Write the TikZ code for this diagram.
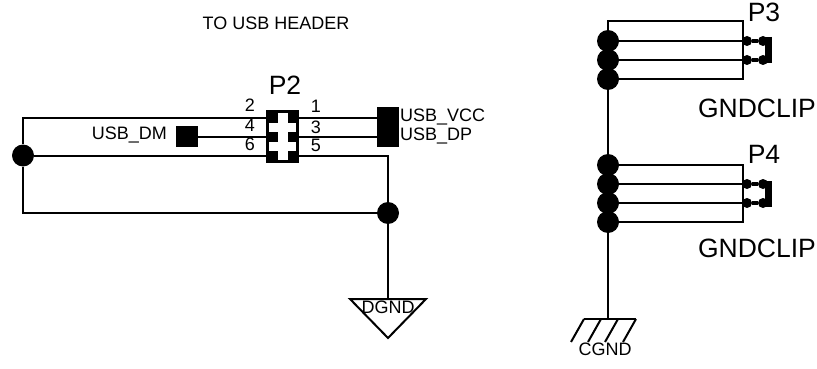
\documentclass[tikz,border=0pt]{standalone}
\usepackage{fontspec}
\setmainfont{Liberation Sans}
\usepackage{xcolor}
\usepackage{tikz}
\tikzset{
	wire/.style={line width=2pt},
	link/.style={line width=4pt},
	bracket/.style={line width=7pt},
	junction/.style={circle, fill=black, inner sep=0pt, minimum size=22pt},
	clipdot/.style={circle, fill=black, inner sep=0pt, minimum size=10pt},
	pad/.style={rectangle, fill=black, inner sep=0pt, minimum width=22pt, minimum height=21pt},
	pin/.style={rectangle, fill=black, inner sep=0pt, minimum width=10pt, minimum height=10pt},
	lbl/.style={inner sep=0pt, font=\fontsize{18}{18}\selectfont},
	big/.style={inner sep=0pt, font=\fontsize{26.5}{27}\selectfont},
}
\begin{document}
\begin{tikzpicture}[x=1pt,y=-1pt]
	\useasboundingbox (0,0) rectangle (817,369);
	\node[lbl] (title) at (276,23) {TO USB HEADER};
	% header P2
	\node[draw, line width=2.6pt, minimum width=30pt, minimum height=50pt, inner sep=0pt] (hdr) at (282.5,136.5) {};
	\node[big] (refa) at (285,85) {P2};
	\node[pin] (p2) at (272.5,117.5) {};
	\node[pin] (p4) at (272.5,136.5) {};
	\node[pin] (p6) at (272.5,155.5) {};
	\node[pin] (p1) at (292.5,117.5) {};
	\node[pin] (p3) at (292.5,136.5) {};
	\node[pin] (p5) at (292.5,155.5) {};
	\node[lbl] (na) at (250,105) {2};
	\node[lbl] (nb) at (250,125) {4};
	\node[lbl] (nc) at (250,144) {6};
	\node[lbl] (nd) at (316,106) {1};
	\node[lbl] (ne) at (316,127) {3};
	\node[lbl] (nf) at (316,145) {5};
	\node[pad] (vcc) at (388,117.5) {};
	\node[pad] (dp) at (388,136.5) {};
	\node[pad] (dm) at (186.5,136.5) {};
	\node[lbl, anchor=west] (vcctxt) at (400,117) {USB\_VCC};
	\node[lbl, anchor=west] (dptxt) at (400,136) {USB\_DP};
	\node[lbl, anchor=east] (dmtxt) at (167,135) {USB\_DM};
	\node[junction] (ja) at (23,155.5) {};
	\node[junction] (jb) at (388,213) {};
	\coordinate (ca) at (23,117.5);
	\coordinate (cb) at (23,213);
	\coordinate (cc) at (388,155.5);
	\draw[wire] (p2.west) -- (ca) -- (ja) -- (cb) -- (jb);
	\draw[wire] (ja) -- (p6.west);
	\draw[wire] (dm) -- (p4.west);
	\draw[wire] (p1.east) -- (vcc);
	\draw[wire] (p3.east) -- (dp);
	\draw[wire] (p5.east) -- (cc) -- (jb);
	% DGND
	\coordinate (ga) at (388,299);
	\coordinate (gb) at (350,299);
	\coordinate (gc) at (426,299);
	\coordinate (gd) at (388,338);
	\draw[wire] (jb) -- (ga);
	\draw[wire] (gb) -- (gc) -- (gd) -- cycle;
	\node[lbl] (dgnd) at (388,307) {DGND};
	% P3
	\node[big] (refb) at (764,12) {P3};
	\node[big] (clipa) at (757,108) {GNDCLIP};
	\node[junction] (t1) at (608,41) {};
	\node[junction] (t2) at (608,60) {};
	\node[junction] (t3) at (608,79) {};
	\node[clipdot] (ta) at (747,41) {};
	\node[clipdot] (tb) at (763,41) {};
	\node[clipdot] (tc) at (747,60) {};
	\node[clipdot] (td) at (763,60) {};
	\coordinate (t0) at (608,21);
	\coordinate (te) at (743,21);
	\coordinate (tf) at (743,79);
	\coordinate (tg) at (768.5,37);
	\coordinate (th) at (768.5,63);
	\draw[wire] (t1) -- (t0) -- (te) -- (tf) -- (t3);
	\draw[wire] (t1) -- (ta);
	\draw[wire] (t2) -- (tc);
	\draw[wire] (t1) -- (t3);
	\draw[link] (ta) -- (tb);
	\draw[link] (tc) -- (td);
	\draw[bracket] (tg) -- (th);
	% P4
	\node[big] (refc) at (764,154) {P4};
	\node[big] (clipb) at (757,248) {GNDCLIP};
	\node[junction] (b1) at (608,165) {};
	\node[junction] (b2) at (608,184) {};
	\node[junction] (b3) at (608,203) {};
	\node[junction] (b4) at (608,222) {};
	\node[clipdot] (ba) at (747,184) {};
	\node[clipdot] (bb) at (763,184) {};
	\node[clipdot] (bc) at (747,203) {};
	\node[clipdot] (bd) at (763,203) {};
	\coordinate (be) at (743,165);
	\coordinate (bf) at (743,222);
	\coordinate (bg) at (768.5,181);
	\coordinate (bh) at (768.5,207);
	\draw[wire] (b1) -- (be) -- (bf) -- (b4);
	\draw[wire] (b2) -- (ba);
	\draw[wire] (b3) -- (bc);
	\draw[wire] (b1) -- (b4);
	\draw[link] (ba) -- (bb);
	\draw[link] (bc) -- (bd);
	\draw[bracket] (bg) -- (bh);
	\draw[wire] (t3) -- (b1);
	% CGND
	\coordinate (ka) at (608,319);
	\coordinate (kb) at (584,319);
	\coordinate (kc) at (636,319);
	\coordinate (kd) at (601,319);
	\coordinate (ke) at (618,319);
	\draw[wire] (b4) -- (ka);
	\draw[wire] (kb) -- (kc);
	\draw[wire] (kb) -- +(-13,23);
	\draw[wire] (kd) -- +(-13,23);
	\draw[wire] (ke) -- +(-13,23);
	\draw[wire] (kc) -- +(-13,23);
	\node[lbl] (cgnd) at (605,349) {CGND};
\end{tikzpicture}
\end{document}
